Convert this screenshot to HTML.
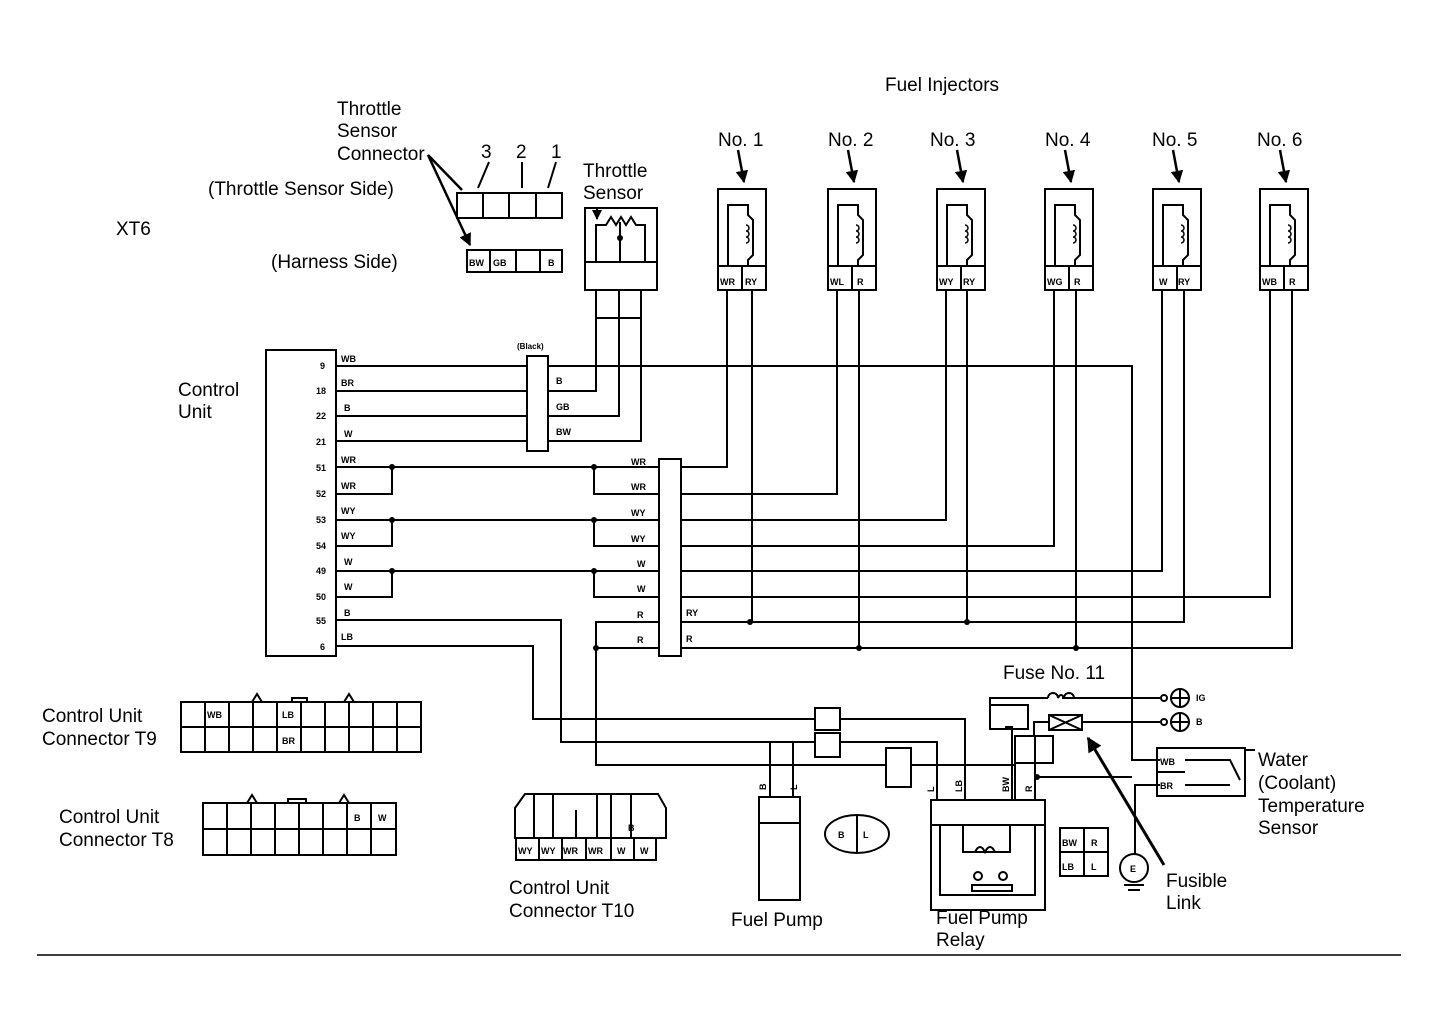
<!DOCTYPE html>
<html><head><meta charset="utf-8"><style>
html,body{margin:0;padding:0;background:#fff;}
svg{display:block;}
text{font-family:"Liberation Sans",Arial,sans-serif;fill:#000;}
.L{font-size:19px;}
.s{font-size:9px;font-weight:bold;}
</style></head><body>
<svg width="1439" height="1032" viewBox="0 0 1439 1032" xmlns="http://www.w3.org/2000/svg">
<defs><marker id="a" viewBox="0 0 10 10" refX="9" refY="5" markerWidth="5" markerHeight="5" orient="auto"><path d="M0 0L10 5L0 10Z" fill="#000"/></marker></defs>
<g fill="none" stroke="#000" stroke-width="2">
<rect x="266" y="350" width="70" height="306"/>
<rect x="527" y="356" width="21" height="95"/>
<rect x="659" y="459" width="22" height="197"/>
<path d="M336 366H527M548 366H1132V760H1160"/>
<path d="M336 391H527M548 391H596V290"/>
<path d="M336 416H527M548 416H619V290"/>
<path d="M336 441H527M548 441H641V290"/>
<path d="M336 467H659M336 494H392V467M594 467V494H659"/>
<path d="M336 520H659M336 546H392V520M594 520V546H659"/>
<path d="M336 571H659M336 597H392V571M594 571V597H659"/>
<path d="M336 620H561V742H815M840 742H937V800"/>
<path d="M336 646H533V719H815M840 719H965V800"/>
<path d="M659 622H596V765H886M911 765H1015V800"/>
<path d="M596 648H659"/>
<path d="M681 467H727V290M681 494H837V290M681 520H946V290M681 546H1054V290M681 571H1162V290M681 597H1270V290"/>
<path d="M681 622H1184V290M752 622V290M967 622V290"/>
<path d="M681 648H1292V290M859 648V290M1076 648V290"/>
<path d="M770 742V797M793 797V742H815"/>
<rect x="815" y="708" width="25" height="22"/>
<rect x="815" y="733" width="25" height="24"/>
<rect x="886" y="748" width="25" height="39"/>
<rect x="759" y="797" width="41" height="103"/>
<path d="M759 823H800"/>
<ellipse cx="857" cy="834" rx="32" ry="19"/>
<path d="M857 816V852"/>
<rect x="931" y="800" width="114" height="110"/>
<path d="M931 825H1045"/>
<path d="M940 825V895H1035V825M963 825V852H1010V825"/>
<path d="M975 852q5 -10 10 0q5 -10 10 0"/>
<circle cx="978" cy="876" r="4"/><circle cx="1003" cy="876" r="4"/>
<rect x="972" y="885" width="40" height="6"/>
<path d="M1012 800V727H1005M990 705V698H1048M1062 698H1160"/>
<path d="M1048 698a5 5 0 0 1 10 0q3 -6 6 0a5 5 0 0 1 10 0"/>
<rect x="990" y="705" width="38" height="24"/>
<rect x="1015" y="736" width="38" height="27"/>
<path d="M1035 800V736M1034 736V722H1049M1049 715H1082V730H1049ZM1049 715L1082 730M1049 730L1082 715M1082 722H1160"/>
<path d="M1037 777H1132"/>
<circle cx="1164" cy="698" r="3"/><circle cx="1180" cy="698" r="9"/><path d="M1171 698H1189M1180 689V707"/>
<circle cx="1164" cy="722" r="3"/><circle cx="1180" cy="722" r="9"/><path d="M1171 722H1189M1180 713V731"/>
<path d="M1164 865L1088 738" stroke-width="3" marker-end="url(#a)"/>
<rect x="1157" y="748" width="88" height="48"/>
<path d="M1157 772H1185M1185 760H1230L1240 780M1185 785H1230M1245 750H1255"/>
<path d="M1160 785H1135V855"/>
<circle cx="1134" cy="868" r="14"/>
<path d="M1124 885H1144M1128 890H1140"/>
<rect x="1060" y="828" width="48" height="48"/>
<path d="M1084 828V876M1060 852H1108"/>
<path d="M515 808l10 -14h133l8 14v30H515Z"/>
<path d="M515 838H666M534 794V838M553 794V838M576 810V838M597 794V838M611 794V838M631 794V838"/>
<rect x="516" y="838" width="140" height="22"/>
<path d="M539 838V860M562 838V860M586 838V860M611 838V860M634 838V860"/>
<rect x="181" y="702" width="240" height="50"/>
<path d="M181 727H421"/>
<path d="M205 702V752M229 702V752M253 702V752M277 702V752M301 702V752M325 702V752M349 702V752M373 702V752M397 702V752"/>
<path d="M252 702l5 -8l5 8M344 702l5 -8l5 8M292 702v-4h15v4"/>
<rect x="203" y="803" width="193" height="52"/>
<path d="M203 829H396"/>
<path d="M227 803V855M251 803V855M275 803V855M299 803V855M323 803V855M347 803V855M371 803V855"/>
<path d="M247 803l5 -8l5 8M339 803l5 -8l5 8M288 803v-4h18v4"/>
<rect x="457" y="193" width="105" height="25"/>
<path d="M483 193V218M509 193V218M536 193V218"/>
<rect x="467" y="250" width="95" height="22"/>
<path d="M490 250V272M516 250V272M540 250V272"/>
<rect x="585" y="208" width="72" height="82"/>
<path d="M585 262H657M596 262V225H606l5 -8l5 8l5 -8l5 8l5 -8l5 8H645V262M620 262V222"/>
<path d="M596 290V318H641V290"/>
<path d="M428 155L462 190M428 155L470 245" stroke-width="2.5" marker-end="url(#a)"/>
<path d="M489 162L478 188M522 162V188M556 162L548 188M597 207V219" marker-end="url(#a)"/>
<path d="M37 955H1401" stroke-width="1.5"/>
</g>
<g fill="#000">
<circle cx="392" cy="467" r="3"/><circle cx="594" cy="467" r="3"/>
<circle cx="392" cy="520" r="3"/><circle cx="594" cy="520" r="3"/>
<circle cx="392" cy="571" r="3"/><circle cx="594" cy="571" r="3"/>
<circle cx="596" cy="648" r="3"/>
<circle cx="750" cy="622" r="3"/><circle cx="967" cy="622" r="3"/>
<circle cx="859" cy="648" r="3"/><circle cx="1076" cy="648" r="3"/>
<circle cx="620" cy="238" r="3"/>
<circle cx="1037" cy="777" r="3"/>
</g>
<g fill="none" stroke="#000" stroke-width="2">
<g transform="translate(718,0)"><rect x="0" y="189" width="48" height="101"/><path d="M0 266H48M24 266V290M10 266V205H30V215l5 5V255l-5 5V266"/><path d="M28 225a3 3 0 1 1 0 6a3 3 0 1 1 0 6a3 3 0 1 1 0 6" stroke-width="1.5"/><path d="M20 150L26 182" stroke-width="2.5" marker-end="url(#a)"/></g>
<g transform="translate(828,0)"><rect x="0" y="189" width="48" height="101"/><path d="M0 266H48M24 266V290M10 266V205H30V215l5 5V255l-5 5V266"/><path d="M28 225a3 3 0 1 1 0 6a3 3 0 1 1 0 6a3 3 0 1 1 0 6" stroke-width="1.5"/><path d="M20 150L26 182" stroke-width="2.5" marker-end="url(#a)"/></g>
<g transform="translate(937,0)"><rect x="0" y="189" width="48" height="101"/><path d="M0 266H48M24 266V290M10 266V205H30V215l5 5V255l-5 5V266"/><path d="M28 225a3 3 0 1 1 0 6a3 3 0 1 1 0 6a3 3 0 1 1 0 6" stroke-width="1.5"/><path d="M20 150L26 182" stroke-width="2.5" marker-end="url(#a)"/></g>
<g transform="translate(1045,0)"><rect x="0" y="189" width="48" height="101"/><path d="M0 266H48M24 266V290M10 266V205H30V215l5 5V255l-5 5V266"/><path d="M28 225a3 3 0 1 1 0 6a3 3 0 1 1 0 6a3 3 0 1 1 0 6" stroke-width="1.5"/><path d="M20 150L26 182" stroke-width="2.5" marker-end="url(#a)"/></g>
<g transform="translate(1153,0)"><rect x="0" y="189" width="48" height="101"/><path d="M0 266H48M24 266V290M10 266V205H30V215l5 5V255l-5 5V266"/><path d="M28 225a3 3 0 1 1 0 6a3 3 0 1 1 0 6a3 3 0 1 1 0 6" stroke-width="1.5"/><path d="M20 150L26 182" stroke-width="2.5" marker-end="url(#a)"/></g>
<g transform="translate(1260,0)"><rect x="0" y="189" width="48" height="101"/><path d="M0 266H48M24 266V290M10 266V205H30V215l5 5V255l-5 5V266"/><path d="M28 225a3 3 0 1 1 0 6a3 3 0 1 1 0 6a3 3 0 1 1 0 6" stroke-width="1.5"/><path d="M20 150L26 182" stroke-width="2.5" marker-end="url(#a)"/></g>
</g>
<text class="L" x="885" y="91">Fuel Injectors</text>
<text class="L" x="718" y="146">No. 1</text><text class="L" x="828" y="146">No. 2</text>
<text class="L" x="930" y="146">No. 3</text><text class="L" x="1045" y="146">No. 4</text>
<text class="L" x="1152" y="146">No. 5</text><text class="L" x="1257" y="146">No. 6</text>
<text class="L" x="337" y="115">Throttle</text><text class="L" x="337" y="137">Sensor</text><text class="L" x="337" y="160">Connector</text>
<text class="L" x="481" y="158">3</text><text class="L" x="516" y="158">2</text><text class="L" x="551" y="158">1</text>
<text class="L" x="583" y="177">Throttle</text><text class="L" x="583" y="199">Sensor</text>
<text class="L" x="208" y="195">(Throttle Sensor Side)</text>
<text class="L" x="271" y="268">(Harness Side)</text>
<text class="L" x="116" y="235">XT6</text>
<text class="L" x="178" y="396">Control</text><text class="L" x="178" y="418">Unit</text>
<text class="L" x="42" y="722">Control Unit</text><text class="L" x="42" y="745">Connector T9</text>
<text class="L" x="59" y="823">Control Unit</text><text class="L" x="59" y="846">Connector T8</text>
<text class="L" x="509" y="894">Control Unit</text><text class="L" x="509" y="917">Connector T10</text>
<text class="L" x="731" y="926">Fuel Pump</text>
<text class="L" x="936" y="924">Fuel Pump</text><text class="L" x="936" y="946">Relay</text>
<text class="L" x="1003" y="679">Fuse No. 11</text>
<text class="L" x="1258" y="766">Water</text><text class="L" x="1258" y="789">(Coolant)</text>
<text class="L" x="1258" y="812">Temperature</text><text class="L" x="1258" y="834">Sensor</text>
<text class="L" x="1166" y="887">Fusible</text><text class="L" x="1166" y="909">Link</text>
<g class="s">
<text x="320" y="369">9</text><text x="316" y="394">18</text><text x="316" y="419">22</text><text x="316" y="445">21</text>
<text x="316" y="471">51</text><text x="316" y="497">52</text><text x="316" y="523">53</text><text x="316" y="549">54</text>
<text x="316" y="574">49</text><text x="316" y="600">50</text><text x="316" y="624">55</text><text x="320" y="650">6</text>
<text x="341" y="362">WB</text><text x="341" y="386">BR</text><text x="344" y="411">B</text><text x="344" y="437">W</text>
<text x="341" y="463">WR</text><text x="341" y="489">WR</text><text x="341" y="514">WY</text><text x="341" y="539">WY</text>
<text x="344" y="565">W</text><text x="344" y="590">W</text><text x="344" y="616">B</text><text x="341" y="640">LB</text>
<text x="517" y="349" font-size="8">(Black)</text>
<text x="556" y="384">B</text><text x="556" y="410">GB</text><text x="556" y="435">BW</text>
<text x="631" y="465">WR</text><text x="631" y="490">WR</text><text x="631" y="516">WY</text><text x="631" y="542">WY</text>
<text x="637" y="567">W</text><text x="637" y="592">W</text><text x="637" y="618">R</text><text x="637" y="643">R</text>
<text x="686" y="616">RY</text><text x="686" y="642">R</text>
<text x="720" y="285">WR</text><text x="745" y="285">RY</text>
<text x="830" y="285">WL</text><text x="857" y="285">R</text>
<text x="939" y="285">WY</text><text x="963" y="285">RY</text>
<text x="1047" y="285">WG</text><text x="1074" y="285">R</text>
<text x="1159" y="285">W</text><text x="1178" y="285">RY</text>
<text x="1262" y="285">WB</text><text x="1289" y="285">R</text>
<text x="469" y="266">BW</text><text x="493" y="266">GB</text><text x="548" y="266">B</text>
<text x="207" y="718">WB</text><text x="282" y="718">LB</text><text x="282" y="744">BR</text>
<text x="354" y="821">B</text><text x="378" y="821">W</text>
<text x="628" y="831">B</text>
<text x="518" y="854">WY</text><text x="541" y="854">WY</text><text x="563" y="854">WR</text><text x="588" y="854">WR</text><text x="617" y="854">W</text><text x="640" y="854">W</text>
<text x="838" y="838">B</text><text x="863" y="838">L</text>
<text x="1062" y="846">BW</text><text x="1091" y="846">R</text><text x="1062" y="870">LB</text><text x="1091" y="870">L</text>
<text x="1160" y="765">WB</text><text x="1160" y="789">BR</text>
<text x="1196" y="701">IG</text><text x="1196" y="725">B</text>
<text x="1130" y="872">E</text>
</g>
<g class="s">
<text transform="translate(766,790) rotate(-90)">B</text>
<text transform="translate(797,790) rotate(-90)">L</text>
<text transform="translate(934,792) rotate(-90)">L</text>
<text transform="translate(962,792) rotate(-90)">LB</text>
<text transform="translate(1009,792) rotate(-90)">BW</text>
<text transform="translate(1032,792) rotate(-90)">R</text>
</g>
</svg>
</body></html>
